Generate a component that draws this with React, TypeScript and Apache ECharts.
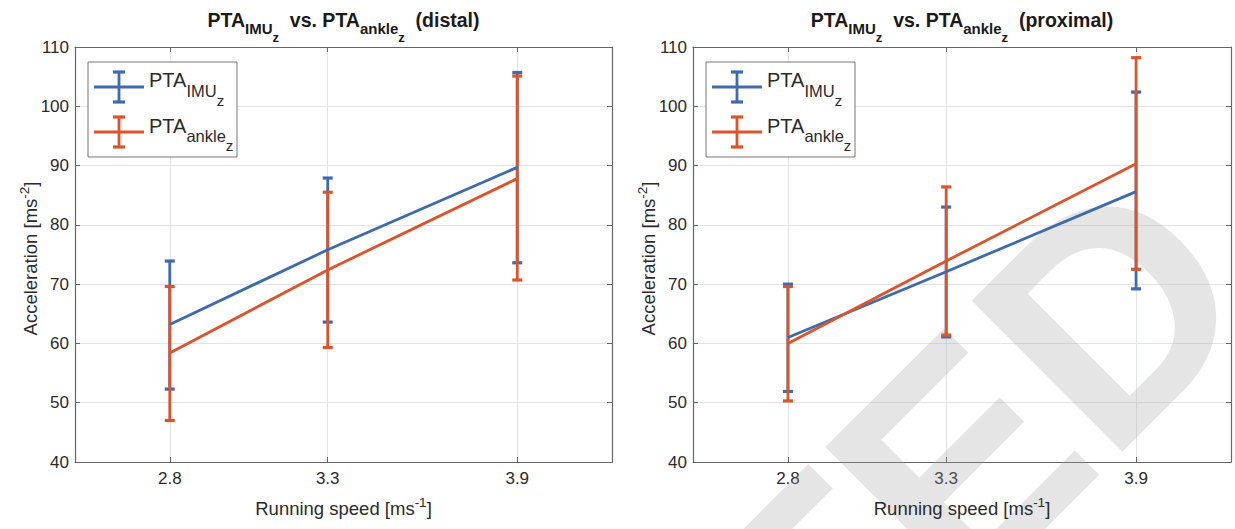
import React, { useEffect, useRef } from "react";
import * as echarts from "echarts";

const speeds = [2.8, 3.3, 3.9];
const xTicks = [2.8, 3.3, 3.9];
const yMin = 40;
const yMax = 110;

// distal
const imuDistalMean = [63.2, 75.8, 89.7];
const imuDistalLow = [52.3, 63.6, 73.6];
const imuDistalHigh = [73.9, 87.9, 105.7];
const ankleDistalMean = [58.4, 72.4, 87.8];
const ankleDistalLow = [47.0, 59.3, 70.7];
const ankleDistalHigh = [69.6, 85.5, 105.1];

// proximal
const imuProxMean = [61.0, 72.1, 85.6];
const imuProxLow = [51.9, 61.1, 69.2];
const imuProxHigh = [70.0, 83.0, 102.4];
const ankleProxMean = [60.0, 73.9, 90.3];
const ankleProxLow = [50.3, 61.4, 72.5];
const ankleProxHigh = [69.6, 86.4, 108.2];

const FONT = '"Liberation Sans", Arial, Helvetica, sans-serif';
const BLUE = "#3E6AB0";
const ORANGE = "#DE542A";
const AXIS = "#666666";
const GRID = "#e7e3e3";
const TXT = "#2b2b2b";

const PANELS = [
  { left: 75, width: 537, title: "(distal)" },
  { left: 693, width: 538, title: "(proximal)" },
];
const TOP = 47;
const HEIGHT = 415;

let measureCtx: CanvasRenderingContext2D | null = null;
function measure(t: string, size: number, bold: boolean) {
  if (!measureCtx) measureCtx = document.createElement("canvas").getContext("2d");
  measureCtx!.font = `${bold ? "bold " : ""}${size}px ${FONT}`;
  return measureCtx!.measureText(t).width;
}

type Seg = { t: string; size: number; dy: number };

function richElems(segs: Seg[], x0: number, baseline: number, align: "left" | "center", bold: boolean, color: string, z = 10) {
  const widths = segs.map((s) => measure(s.t, s.size, bold));
  const total = widths.reduce((a, b) => a + b, 0);
  let x = align === "center" ? x0 - total / 2 : x0;
  const out: any[] = [];
  segs.forEach((s, i) => {
    out.push({
      type: "text",
      x,
      y: baseline + s.dy - 0.3465 * s.size,
      z,
      silent: true,
      style: {
        text: s.t,
        font: `${bold ? "bold " : ""}${s.size}px ${FONT}`,
        fill: color,
        textAlign: "left",
        textVerticalAlign: "middle",
        verticalAlign: "middle",
      },
    });
    x += widths[i];
  });
  return out;
}

function errSeries(xi: number, yi: number, low: number[], high: number[], color: string) {
  return {
    type: "custom",
    xAxisIndex: xi,
    yAxisIndex: yi,
    data: speeds.map((s, i) => [s, low[i], high[i]]),
    encode: { x: 0, y: [1, 2] },
    clip: false,
    renderItem: (_p: any, api: any) => {
      const x = api.value(0);
      const pLo = api.coord([x, api.value(1)]);
      const pHi = api.coord([x, api.value(2)]);
      const hw = 5;
      const st = { stroke: color, lineWidth: 2.8 };
      return {
        type: "group",
        children: [
          { type: "line", shape: { x1: pLo[0], y1: pLo[1], x2: pHi[0], y2: pHi[1] }, style: st },
          { type: "line", shape: { x1: pLo[0] - hw, y1: pLo[1], x2: pLo[0] + hw, y2: pLo[1] }, style: { ...st, lineWidth: 3.2 } },
          { type: "line", shape: { x1: pHi[0] - hw, y1: pHi[1], x2: pHi[0] + hw, y2: pHi[1] }, style: { ...st, lineWidth: 3.2 } },
        ],
      };
    },
  };
}

function lineSeries(xi: number, yi: number, mean: number[], color: string) {
  return {
    type: "line",
    xAxisIndex: xi,
    yAxisIndex: yi,
    data: speeds.map((s, i) => [s, mean[i]]),
    showSymbol: false,
    symbol: "none",
    lineStyle: { color, width: 2.8 },
    itemStyle: { color },
  };
}

function legendElems(dx: number) {
  const els: any[] = [];
  els.push({
    type: "rect",
    shape: { x: 88 + dx, y: 62, width: 149, height: 95 },
    style: { fill: "#fff", stroke: "#777", lineWidth: 1 },
    z: 20,
  });
  const entry = (cy: number, top: number, bot: number, color: string) => {
    const st = { stroke: color, lineWidth: 2.8 };
    els.push({ type: "line", shape: { x1: 94 + dx, y1: cy, x2: 144 + dx, y2: cy }, style: st, z: 21 });
    els.push({ type: "line", shape: { x1: 119 + dx, y1: top, x2: 119 + dx, y2: bot }, style: st, z: 21 });
    els.push({ type: "line", shape: { x1: 113 + dx, y1: top, x2: 125 + dx, y2: top }, style: { ...st, lineWidth: 3.2 }, z: 21 });
    els.push({ type: "line", shape: { x1: 113 + dx, y1: bot, x2: 125 + dx, y2: bot }, style: { ...st, lineWidth: 3.2 }, z: 21 });
  };
  entry(87, 72, 102, BLUE);
  entry(132, 117, 147, ORANGE);
  els.push(
    ...richElems(
      [
        { t: "PTA", size: 20, dy: 0 },
        { t: "IMU", size: 16.5, dy: 10 },
        { t: "z", size: 15, dy: 18.5 },
      ],
      149 + dx, 87, "left", false, TXT, 22
    )
  );
  els.push(
    ...richElems(
      [
        { t: "PTA", size: 20, dy: 0 },
        { t: "ankle", size: 16.5, dy: 9 },
        { t: "z", size: 15, dy: 18 },
      ],
      149 + dx, 133, "left", false, TXT, 22
    )
  );
  return els;
}

function titleElems(cx: number, suffix: string) {
  return richElems(
    [
      { t: "PTA", size: 19.5, dy: 0 },
      { t: "IMU", size: 15, dy: 6.5 },
      { t: "z", size: 13, dy: 15 },
      { t: "  vs. PTA", size: 19.5, dy: 0 },
      { t: "ankle", size: 15, dy: 6.5 },
      { t: "z", size: 13, dy: 15 },
      { t: "  " + suffix, size: 19.5, dy: 0 },
    ],
    cx, 27, "center", true, "#1a1a1a"
  );
}

function xNameElems(cx: number) {
  return richElems(
    [
      { t: "Running speed [ms", size: 18.5, dy: 0 },
      { t: "-1", size: 13.5, dy: -8 },
      { t: "]", size: 18.5, dy: 0 },
    ],
    cx, 515, "center", false, TXT
  );
}

function yNameGroup(bx: number, cy: number) {
  return {
    type: "group",
    x: bx,
    y: cy,
    rotation: Math.PI / 2,
    children: richElems(
      [
        { t: "Acceleration [ms", size: 18.5, dy: 0 },
        { t: "-2", size: 13.5, dy: -8 },
        { t: "]", size: 18.5, dy: 0 },
      ],
      0, 0, "center", false, TXT
    ),
  };
}

function App() {
  const ref = useRef<HTMLDivElement>(null);
  useEffect(() => {
    if (!ref.current) return;
    const chart = echarts.init(ref.current, null, { renderer: "svg" });
    const grids: any[] = [];
    const xAxes: any[] = [];
    const yAxes: any[] = [];
    PANELS.forEach((p, gi) => {
      grids.push({ left: p.left, top: TOP, width: p.width, height: HEIGHT, containLabel: false });
      const tickCommon = { inside: true, length: 5, lineStyle: { color: AXIS, width: 1 } };
      xAxes.push({
        type: "value", gridIndex: gi, position: "bottom", min: 2.5, max: 4.2,
        axisLine: { show: true, onZero: false, lineStyle: { color: AXIS, width: 1.2 } },
        axisTick: { ...tickCommon, customValues: xTicks },
        axisLabel: { customValues: xTicks, formatter: (v: number) => v.toFixed(1), fontSize: 17, fontFamily: FONT, color: TXT, margin: 8 },
        splitLine: { show: true, lineStyle: { color: GRID, width: 1 } },
      });
      xAxes.push({
        type: "value", gridIndex: gi, position: "top", min: 2.5, max: 4.2,
        axisLine: { show: true, onZero: false, lineStyle: { color: AXIS, width: 1.2 } },
        axisTick: { ...tickCommon, customValues: xTicks },
        axisLabel: { show: false },
        splitLine: { show: false },
      });
      yAxes.push({
        type: "value", gridIndex: gi, position: "left", min: yMin, max: yMax, interval: 10,
        axisLine: { show: true, onZero: false, lineStyle: { color: AXIS, width: 1.2 } },
        axisTick: tickCommon,
        axisLabel: { fontSize: 17, fontFamily: FONT, color: TXT, margin: 6 },
        splitLine: { show: true, lineStyle: { color: GRID, width: 1 } },
      });
      yAxes.push({
        type: "value", gridIndex: gi, position: "right", min: yMin, max: yMax, interval: 10,
        axisLine: { show: true, onZero: false, lineStyle: { color: AXIS, width: 1.2 } },
        axisTick: tickCommon,
        axisLabel: { show: false },
        splitLine: { show: false },
      });
    });

    const series: any[] = [
      lineSeries(0, 0, imuDistalMean, BLUE),
      errSeries(0, 0, imuDistalLow, imuDistalHigh, BLUE),
      lineSeries(0, 0, ankleDistalMean, ORANGE),
      errSeries(0, 0, ankleDistalLow, ankleDistalHigh, ORANGE),
      lineSeries(2, 2, imuProxMean, BLUE),
      errSeries(2, 2, imuProxLow, imuProxHigh, BLUE),
      lineSeries(2, 2, ankleProxMean, ORANGE),
      errSeries(2, 2, ankleProxLow, ankleProxHigh, ORANGE),
    ];

    const graphics: any[] = [
      {
        type: "text",
        x: 1190,
        y: 232,
        rotation: Math.PI / 4,
        z: 1,
        silent: true,
        style: {
          text: "TED",
          font: `bold 310px ${FONT}`,
          fill: "rgba(160,160,160,0.28)",
          textAlign: "right",
          textVerticalAlign: "middle",
          verticalAlign: "middle",
        },
      },
    ];
    PANELS.forEach((p) => {
      const cx = p.left + p.width / 2;
      graphics.push(...titleElems(cx, p.title));
      graphics.push(...xNameElems(cx));
      graphics.push(yNameGroup(p.left - 38, TOP + HEIGHT / 2 + 4));
      graphics.push(...legendElems(p.left - 75));
    });

    chart.setOption({
      animation: false,
      backgroundColor: "#ffffff",
      grid: grids,
      xAxis: xAxes,
      yAxis: yAxes,
      series,
      graphic: graphics,
    });
    return () => chart.dispose();
  }, []);
  return <div ref={ref} style={{ position: "fixed", left: 0, top: 0, width: 1235, height: 529 }} />;
}

export default App;
